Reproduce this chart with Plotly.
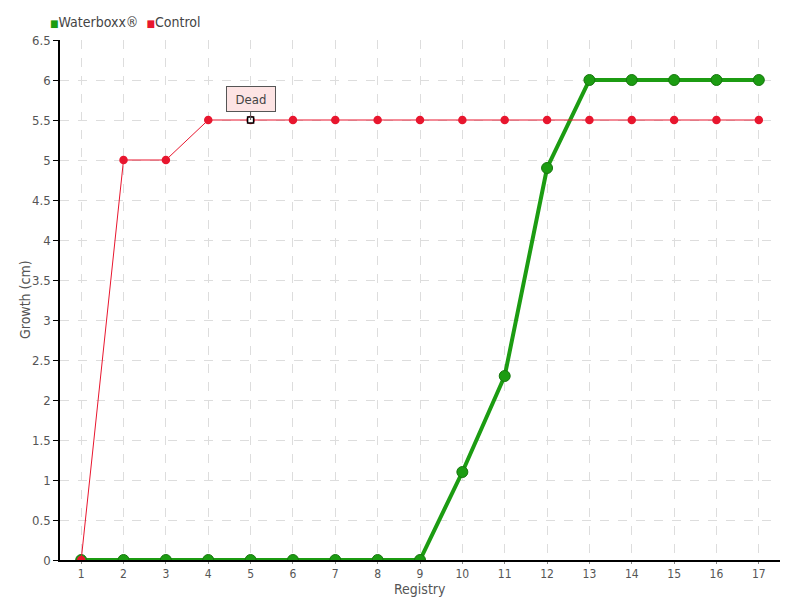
import plotly.graph_objects as go

registry = list(range(1, 18))
waterboxx = [0, 0, 0, 0, 0, 0, 0, 0, 0, 1.1, 2.3, 4.9, 6, 6, 6, 6, 6]
control = [0, 5, 5, 5.5, 5.5, 5.5, 5.5, 5.5, 5.5, 5.5, 5.5, 5.5, 5.5, 5.5, 5.5, 5.5, 5.5]
dead_index = 4
y_ticks = [0, 0.5, 1, 1.5, 2, 2.5, 3, 3.5, 4, 4.5, 5, 5.5, 6, 6.5]

FONT = "DejaVu Sans Condensed, DejaVu Sans, sans-serif"
GREEN = "#1c9c12"
RED = "#e8162e"

fig = go.Figure()
fig.add_trace(go.Scatter(
    x=registry, y=waterboxx, mode="lines+markers", name="Waterboxx®",
    line=dict(color=GREEN, width=4),
    marker=dict(color=GREEN, size=11, line=dict(color="#16780e", width=1)),
    showlegend=False))
fig.add_trace(go.Scatter(
    x=registry, y=control, mode="lines+markers", name="Control",
    line=dict(color=RED, width=1),
    marker=dict(color=RED, size=8.5, line=dict(width=0)),
    showlegend=False))
fig.add_trace(go.Scatter(
    x=[registry[dead_index]], y=[control[dead_index]], mode="markers",
    marker=dict(color="white", size=6, symbol="square", line=dict(color="black", width=1.5)),
    showlegend=False))

# legend drawn as text
fig.add_annotation(xref="paper", yref="paper", x=-12 / 720, y=1.0 + 18 / 520,
                   xanchor="left", yanchor="middle", showarrow=False,
                   text=(f"<span style='color:{GREEN};font-size:10px'>■</span>Waterboxx®  "
                         f"<span style='color:{RED};font-size:10px'>■</span>Control"),
                   font=dict(family=FONT, size=14, color="#444"))

# axis titles
fig.add_annotation(xref="paper", yref="paper", x=0.5, y=-29 / 520, xanchor="center",
                   yanchor="middle", showarrow=False, text="Registry",
                   font=dict(family=FONT, size=14, color="#555"))
fig.add_annotation(xref="paper", yref="paper", x=-35 / 720, y=0.5, xanchor="center",
                   yanchor="middle", showarrow=False, text="Growth (cm)", textangle=-90,
                   font=dict(family=FONT, size=14, color="#555"))

fig.add_annotation(x=registry[dead_index], y=control[dead_index], text="Dead",
                   showarrow=True, arrowhead=0, arrowwidth=1, arrowcolor="#555",
                   ax=0, ay=-21, bgcolor="#fde4e4", bordercolor="#555",
                   borderwidth=1, borderpad=2, width=44, height=20,
                   font=dict(family=FONT, size=13, color="#444"))

fig.update_layout(
    width=800, height=600,
    margin=dict(l=52, r=28, t=32, b=48),
    plot_bgcolor="white", paper_bgcolor="white",
    font=dict(family=FONT, size=13, color="#555"),
    showlegend=False,
    xaxis=dict(range=[0.5, 17.5], tickvals=registry, ticktext=[str(r) for r in registry],
               showline=True, linecolor="black", linewidth=1.5, automargin=False,
               showgrid=True, gridcolor="#dddddd", griddash="dash", gridwidth=1,
               ticks="outside", ticklen=2, tickcolor="#888", zeroline=False,
               tickfont=dict(size=12)),
    yaxis=dict(range=[0, 6.5], tickvals=y_ticks, ticktext=[f"{v:g}" for v in y_ticks],
               showline=True, linecolor="black", linewidth=1.5, automargin=False,
               showgrid=True, gridcolor="#dddddd", griddash="dash", gridwidth=1,
               ticks="outside", ticklen=5, tickcolor="black", zeroline=False,
               tickfont=dict(size=13)),
)

fig.write_html("out.html")
